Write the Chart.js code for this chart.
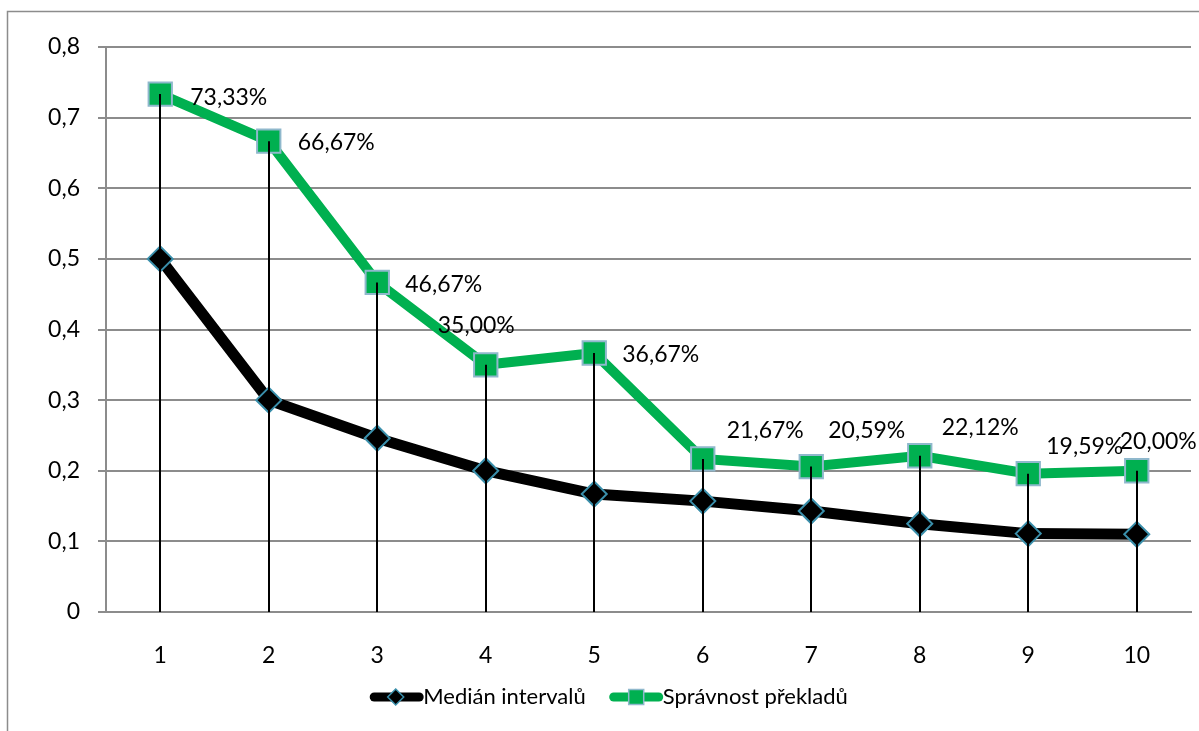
<!DOCTYPE html>
<html>
<head>
<meta charset="utf-8">
<script src="https://cdn.jsdelivr.net/npm/chart.js@4/dist/chart.umd.min.js"></script>
<style>
  html, body { margin: 0; padding: 0; background: #ffffff; overflow: hidden; }
  #wrap { position: relative; width: 1199px; height: 731px; }
</style>
</head>
<body>
<div id="wrap"><canvas id="chart" width="1199" height="731"></canvas></div>
<script>
// Categories on the x axis
const categories = ['1', '2', '3', '4', '5', '6', '7', '8', '9', '10'];
// Median interval per step
const medianIntervals = [0.5, 0.3, 0.246, 0.2, 0.167, 0.157, 0.143, 0.125, 0.111, 0.11];
// Share of correct translations per step
const translationAccuracy = [0.7333, 0.6667, 0.4667, 0.35, 0.3667, 0.2167, 0.2059, 0.2212, 0.1959, 0.2];
// Y axis tick values
const yTickValues = [0, 0.1, 0.2, 0.3, 0.4, 0.5, 0.6, 0.7, 0.8];
// Series names
const seriesNames = ['Medián intervalů', 'Správnost překladů'];

// Placement of each percentage label relative to its point (text left edge, text middle)
const labelOffsets = [
  [30, 3], [29, 1], [28, 2], [-48, -39], [28, 2],
  [24, -28], [17, -36], [22, -28], [18, -27], [-17, -29]
];

const FONT = 'Lato, "Noto Sans", sans-serif';
const GRID = '#8c8c8c';
const GREEN = '#00b050';
const SQUARE_EDGE = '#8fb8cc';
const DIAMOND_EDGE = '#3a8fab';

const fmtComma = (v, d) => v.toFixed(d).replace('.', ',');

// Outer frame of the chart
const framePlugin = {
  id: 'frame',
  beforeDraw(chart) {
    const ctx = chart.ctx;
    ctx.save();
    ctx.strokeStyle = GRID;
    ctx.lineWidth = 1.5;
    ctx.beginPath();
    ctx.moveTo(7.5, chart.height);
    ctx.lineTo(7.5, 11.5);
    ctx.lineTo(chart.width, 11.5);
    ctx.stroke();
    ctx.restore();
  }
};

// Drop lines from each accuracy point down to zero, plus the percentage labels
const dropLinePlugin = {
  id: 'dropLines',
  afterDatasetsDraw(chart) {
    const ctx = chart.ctx;
    const y0 = chart.scales.y.getPixelForValue(0);
    const meta = chart.getDatasetMeta(1);
    ctx.save();
    ctx.strokeStyle = '#000000';
    ctx.lineWidth = 2;
    meta.data.forEach((pt) => {
      const x = Math.round(pt.x);
      ctx.beginPath();
      ctx.moveTo(x, pt.y);
      ctx.lineTo(x, y0);
      ctx.stroke();
    });
    ctx.fillStyle = '#000000';
    ctx.font = '23px ' + FONT;
    ctx.textAlign = 'left';
    ctx.textBaseline = 'middle';
    meta.data.forEach((pt, i) => {
      const txt = fmtComma(translationAccuracy[i] * 100, 2) + '%';
      const off = labelOffsets[i];
      ctx.fillText(txt, pt.x + off[0], pt.y + off[1]);
    });
    ctx.restore();
  }
};

// Legend with a line sample and marker for each series
const legendPlugin = {
  id: 'lineLegend',
  afterDraw(chart) {
    const ctx = chart.ctx;
    ctx.save();
    ctx.font = '22px ' + FONT;
    ctx.textBaseline = 'middle';
    ctx.textAlign = 'left';
    const sample = 53, gap = 24, cy = 697;
    const w0 = ctx.measureText(seriesNames[0]).width;
    const w1 = ctx.measureText(seriesNames[1]).width;
    const total = sample + w0 + gap + sample + w1;
    let x = 609 - total / 2;

    // black series
    ctx.lineCap = 'round';
    ctx.strokeStyle = '#000000';
    ctx.lineWidth = 9;
    ctx.beginPath();
    ctx.moveTo(x + 4, cy);
    ctx.lineTo(x + sample - 4, cy);
    ctx.stroke();
    const dx = x + sample / 2 - 1;
    ctx.beginPath();
    ctx.moveTo(dx, cy - 8);
    ctx.lineTo(dx + 8, cy);
    ctx.lineTo(dx, cy + 8);
    ctx.lineTo(dx - 8, cy);
    ctx.closePath();
    ctx.fillStyle = '#000000';
    ctx.fill();
    ctx.lineWidth = 1.5;
    ctx.strokeStyle = DIAMOND_EDGE;
    ctx.stroke();
    ctx.fillStyle = '#000000';
    ctx.fillText(seriesNames[0], x + sample, cy);
    x += sample + w0 + gap;

    // green series
    ctx.strokeStyle = GREEN;
    ctx.lineWidth = 9;
    ctx.beginPath();
    ctx.moveTo(x + 4, cy);
    ctx.lineTo(x + sample - 4, cy);
    ctx.stroke();
    const sx = x + sample / 2;
    ctx.fillStyle = GREEN;
    ctx.fillRect(sx - 7.5, cy - 7.5, 15, 15);
    ctx.lineWidth = 1.5;
    ctx.strokeStyle = SQUARE_EDGE;
    ctx.strokeRect(sx - 7.5, cy - 7.5, 15, 15);
    ctx.fillStyle = '#000000';
    ctx.fillText(seriesNames[1], x + sample, cy);
    ctx.restore();
  }
};

new Chart(document.getElementById('chart'), {
  type: 'line',
  data: {
    labels: categories,
    datasets: [
      {
        label: seriesNames[0],
        data: medianIntervals,
        borderColor: '#000000',
        backgroundColor: '#000000',
        borderWidth: 11,
        tension: 0,
        pointStyle: 'rectRot',
        pointRadius: 12.5,
        pointHoverRadius: 12.5,
        pointBackgroundColor: '#000000',
        pointBorderColor: DIAMOND_EDGE,
        pointBorderWidth: 2
      },
      {
        label: seriesNames[1],
        data: translationAccuracy,
        borderColor: GREEN,
        backgroundColor: GREEN,
        borderWidth: 10,
        tension: 0,
        pointStyle: 'rect',
        pointRadius: 16.5,
        pointHoverRadius: 16.5,
        pointBackgroundColor: GREEN,
        pointBorderColor: SQUARE_EDGE,
        pointBorderWidth: 2
      }
    ]
  },
  options: {
    responsive: false,
    animation: false,
    events: [],
    layout: { autoPadding: false, padding: { top: 47, right: 8, bottom: 59, left: 0 } },
    plugins: {
      legend: { display: false },
      tooltip: { enabled: false },
      title: { display: false }
    },
    scales: {
      x: {
        offset: true,
        grid: { display: false, drawTicks: false },
        border: { display: true, color: GRID, width: 2 },
        ticks: { color: '#000000', font: { family: FONT, size: 23 }, padding: 30, maxRotation: 0 },
        afterFit(scale) {
          scale.height = 60;
          scale.paddingLeft = 0;
          scale.paddingRight = 0;
        }
      },
      y: {
        min: 0,
        max: 0.8,
        afterBuildTicks(scale) { scale.ticks = yTickValues.map(v => ({ value: v })); },
        grid: { color: GRID, lineWidth: 2, tickLength: 8, drawTicks: true },
        border: { display: true, color: GRID, width: 2 },
        ticks: {
          color: '#000000',
          font: { family: FONT, size: 23 },
          padding: 18,
          callback(v) { return v === 0 ? '0' : fmtComma(v, 1); }
        },
        afterFit(scale) { scale.width = 106; }
      }
    }
  },
  plugins: [framePlugin, dropLinePlugin, legendPlugin]
});
</script>
</body>
</html>
